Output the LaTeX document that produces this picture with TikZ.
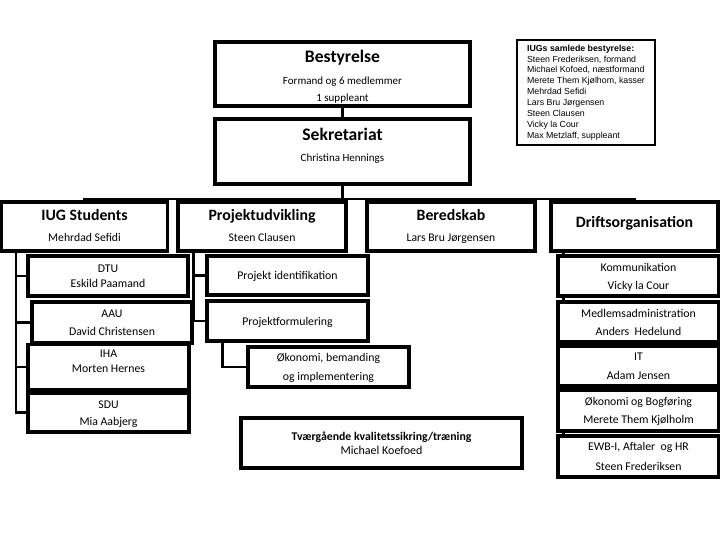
\documentclass[tikz,border=0pt]{standalone}
\usepackage{fontspec}
\setmainfont{Carlito}
\newfontfamily\arialfont{Liberation Sans}
\usetikzlibrary{shadows,backgrounds}
\newcommand\bigttl[1]{{\fontsize{17.6}{18}\selectfont\bfseries #1}}
\newcommand\midttl[1]{{\fontsize{15.8}{16}\selectfont\bfseries #1}}
\newcommand\zs{\rule[-4.2pt]{0pt}{16.7pt}}
\newcommand\nolsk{\lineskiplimit-50pt\relax}
\begin{document}
\begin{tikzpicture}[x=1pt,y=-1pt,
  box/.style={draw=black, line width=3.1pt, fill=white, align=center, inner sep=0pt,
    drop shadow={shadow xshift=1.8pt,shadow yshift=-1.8pt,fill=black,opacity=0.22}},
  topbox/.style={box, font=\fontsize{11}{17}\selectfont},
  lvlbox/.style={box, minimum height=49pt, font={\fontsize{11.7}{21}\selectfont\nolsk}},
  childbox/.style={box, font={\fontsize{11.8}{15}\selectfont\nolsk}},
  conn/.style={line width=2.4pt, draw=black}]
\useasboundingbox (0,0) rectangle (720,540);

% top
\node[topbox, minimum width=255pt, minimum height=64pt] (best) at (342.5,74)
  {\rule{0pt}{18pt}\bigttl{Bestyrelse}\\[5pt]Formand og 6 medlemmer\\1 suppleant};
\node[topbox, minimum width=255pt, minimum height=65pt, text depth=14pt] (sek) at (342.5,151.5)
  {\bigttl{Sekretariat}\\[4pt]Christina Hennings};

% board list
\node[draw=black, line width=1.8pt, fill=white, align=left, inner sep=0pt,
      minimum width=138pt, minimum height=105pt,
      font=\arialfont\fontsize{8.8}{10.9}\selectfont] (iugs) at (586,92.5)
  {\textbf{IUGs samlede bestyrelse:}\\Steen Frederiksen, formand\\Michael Kofoed, næstformand\\Merete Them Kjølhom, kasser\\Mehrdad Sefidi\\Lars Bru Jørgensen\\Steen Clausen\\Vicky la Cour\\Max Metzlaff, suppleant};

% level 2
\node[lvlbox, minimum width=166pt] (iug) at (84.5,226.5) {\zs\midttl{IUG Students}\\\zs Mehrdad Sefidi};
\node[lvlbox, minimum width=168pt] (proj) at (262,226.5) {\zs\midttl{Projektudvikling}\\\zs Steen Clausen};
\node[lvlbox, minimum width=168pt] (bered) at (451,226.5) {\zs\midttl{Beredskab}\\\zs Lars Bru Jørgensen};
\node[lvlbox, minimum width=167pt, text depth=11pt] (drift) at (634.5,226.5) {\zs\midttl{Driftsorganisation}};

% IUG Students children
\node[childbox, minimum width=160pt, minimum height=40pt] (dtu) at (108,276) {\zs DTU\\\zs Eskild Paamand};
\node[childbox, minimum width=160pt, minimum height=41pt] (aau) at (112,322.5) {\zs AAU\\[3pt]\zs David Christensen};
\node[childbox, minimum width=161pt, minimum height=40pt, text depth=17pt] (iha) at (108.5,367) {\zs IHA\\\zs Morten Hernes};
\node[childbox, minimum width=161pt, minimum height=39pt] (sdu) at (108.5,412.5) {\zs SDU\\[2pt]\zs Mia Aabjerg};

% Projektudvikling children
\node[childbox, minimum width=161pt, minimum height=39pt] (pid) at (287.5,275.5) {\zs Projekt identifikation};
\node[childbox, minimum width=161pt, minimum height=40pt] (pform) at (287.5,321) {\zs Projektformulering};
\node[childbox, minimum width=161pt, minimum height=40pt] (oko) at (328.5,367) {\zs Økonomi, bemanding\\[4pt]\zs og implementering};

% cross-cutting
\node[box, minimum width=281pt, minimum height=50pt, font={\fontsize{12}{14}\selectfont\nolsk}] (tvg) at (381.5,443)
  {\zs{\bfseries\fontsize{11.8}{14}\selectfont Tværgående kvalitetssikring/træning}\\\zs Michael Koefoed};

% Driftsorganisation children
\node[childbox, minimum width=161pt, minimum height=40pt] (kom) at (638.5,276) {\zs Kommunikation\\[3pt]\zs Vicky la Cour};
\node[childbox, minimum width=161pt, minimum height=40pt] (med) at (638.5,322) {\zs Medlemsadministration\\[3pt]\zs Anders\ \ Hedelund};
\node[childbox, minimum width=161pt, minimum height=40pt] (it) at (638.5,366) {\zs IT\\[4pt]\zs Adam Jensen};
\node[childbox, minimum width=161pt, minimum height=41pt] (okb) at (638.5,410.5) {\zs Økonomi og Bogføring\\[3pt]\zs Merete Them Kjølholm};
\node[childbox, minimum width=161pt, minimum height=41pt] (ewb) at (638.5,456.5) {\zs EWB-I, Aftaler\ \ og HR\\[5pt]\zs Steen Frederiksen};

\coordinate (bus) at (342.5,199);

\begin{scope}[on background layer]
  \draw[conn] (best) -- (sek);
  \draw[conn] (sek.south) -- (bus);
  \draw[conn] (iug.north) -- (iug.north |- bus) -- (drift.north |- bus) -- (drift.north);
  \draw[conn] (proj.north) -- (proj.north |- bus);
  \draw[conn] (bered.north) -- (bered.north |- bus);
  \draw[conn] (iug.south west) ++(16,0) |- (dtu.west);
  \draw[conn] (iug.south west) ++(16,0) |- (aau.west);
  \draw[conn] (iug.south west) ++(16,0) |- (iha.west);
  \draw[conn] (iug.south west) ++(16,0) |- (sdu.west);
  \draw[conn] (proj.south west) ++(17,0) |- (pid.west);
  \draw[conn] (proj.south west) ++(17,0) |- (pform.west);
  \draw[conn] (pform.south west) ++(17,0) |- (oko.west);
  \draw[conn] (drift.south west) ++(14,0) coordinate (d0) -- (d0 |- ewb.north);
\end{scope}
\end{tikzpicture}
\end{document}
